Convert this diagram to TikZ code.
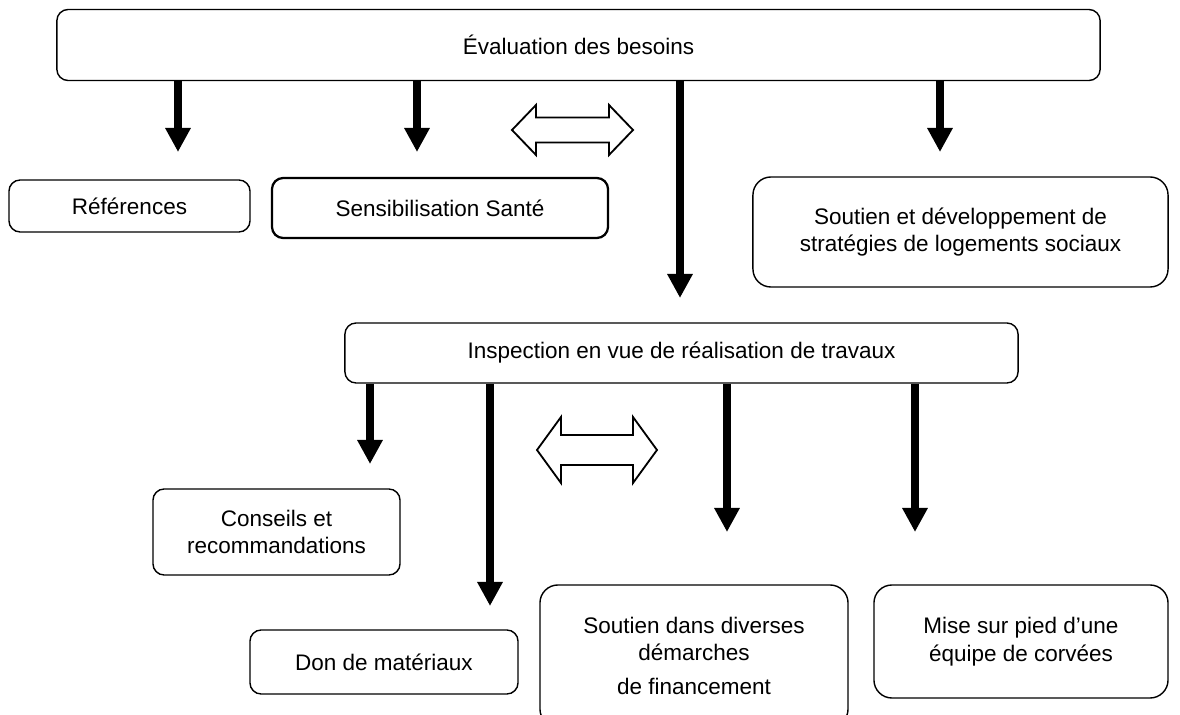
\documentclass[tikz,border=0pt]{standalone}
\usepackage{fontspec}
\setmainfont{Liberation Sans}
\usetikzlibrary{arrows.meta}

\begin{document}
\begin{tikzpicture}[x=0.025cm,y=-0.025cm,
    box/.style={draw,line width=1pt,rounded corners=0.28cm,align=center,
        font=\fontsize{16}{19.5}\selectfont},
    bigbox/.style={box,rounded corners=0.45cm},
    fat/.style={line width=0.2cm,-{Triangle[width=0.6cm,length=0.6cm]}},
    twoway/.style={draw,line width=1.3pt,fill=white,line join=miter}]
    \useasboundingbox (0,0) rectangle (1180,715);

    \node[box,minimum width=26.075cm,minimum height=1.775cm] (eval) at (578.5,45) {Évaluation des besoins};

    \node[box,minimum width=6.025cm,minimum height=1.3cm] (ref) at (129.5,206) {Références};
    \node[box,line width=1.6pt,minimum width=8.4cm,minimum height=1.5cm] (sens) at (440,208) {Sensibilisation Santé};
    \node[bigbox,minimum width=10.375cm,minimum height=2.75cm] (strat) at (960.5,232) {Soutien et développement de\\stratégies de logements sociaux};

    \node[box,minimum width=16.825cm,minimum height=1.5cm] (insp) at (681.5,353) {Inspection en vue de réalisation de travaux};

    \node[box,minimum width=6.175cm,minimum height=2.15cm] (cons) at (276.5,532) {Conseils et\\recommandations};
    \node[box,minimum width=6.7cm,minimum height=1.6cm] (don) at (384,662) {Don de matériaux};
    \node[bigbox,minimum width=7.7cm,minimum height=3.55cm] (fin) at (694,656) {Soutien dans diverses\\démarches\\[5pt]de financement};
    \node[bigbox,minimum width=7.35cm,minimum height=2.825cm] (mise) at (1021,641.5) {Mise sur pied d’une\\équipe de corvées};

    \coordinate (e1) at (178,152);
    \coordinate (e2) at (417,152);
    \coordinate (e3) at (680,298);
    \coordinate (e4) at (940,152);
    \coordinate (i1) at (370,464);
    \coordinate (i2) at (490,606);
    \coordinate (i3) at (727,532);
    \coordinate (i4) at (915,532);

    \draw[fat] (eval.south -| e1) -- (e1);
    \draw[fat] (eval.south -| e2) -- (e2);
    \draw[fat] (eval.south -| e3) -- (e3);
    \draw[fat] (eval.south -| e4) -- (e4);

    \draw[fat] (insp.south -| i1) -- (i1);
    \draw[fat] (insp.south -| i2) -- (i2);
    \draw[fat] (insp.south -| i3) -- (i3);
    \draw[fat] (insp.south -| i4) -- (i4);

    \draw[twoway] (512,130) -- (536,105) -- (536,117.5) -- (609,117.5) -- (609,105) -- (633,130)
        -- (609,155) -- (609,142.5) -- (536,142.5) -- (536,155) -- cycle;
    \draw[twoway] (537,450) -- (561,417) -- (561,435) -- (633,435) -- (633,417) -- (657,450)
        -- (633,483) -- (633,465) -- (561,465) -- (561,483) -- cycle;
\end{tikzpicture}
\end{document}
